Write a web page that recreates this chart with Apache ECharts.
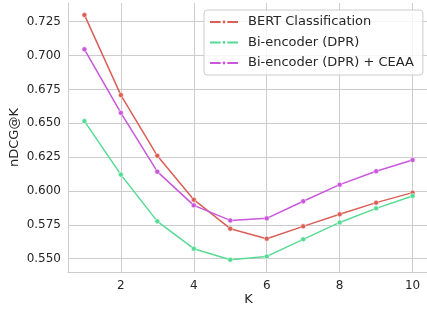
<!DOCTYPE html>
<html>
<head>
<meta charset="utf-8">
<script src="https://cdn.jsdelivr.net/npm/echarts@6/dist/echarts.min.js"></script>
<style>
  html, body { margin: 0; padding: 0; background: #fff; }
  #chart { width: 427px; height: 309px; }
</style>
</head>
<body>
<div id="chart"></div>
<script>
// K values and nDCG@K for each model
let kValues = [1, 2, 3, 4, 5, 6, 7, 8, 9, 10];
let bertCls = [0.7300, 0.6708, 0.6260, 0.5936, 0.5722, 0.5648, 0.5739, 0.5828, 0.5914, 0.5988];
let dpr = [0.6516, 0.6121, 0.5776, 0.5574, 0.5493, 0.5517, 0.5643, 0.5768, 0.5872, 0.5963];
let dprCeaa = [0.7046, 0.6577, 0.6143, 0.5894, 0.5783, 0.5798, 0.5924, 0.6047, 0.6146, 0.6229];

let seriesNames = ['BERT Classification', 'Bi-encoder (DPR)', 'Bi-encoder (DPR) + CEAA'];
let seriesColors = ['#db5f57', '#57db94', '#c957db'];

let xTicks = [2, 4, 6, 8, 10];
let yTicks = [0.550, 0.575, 0.600, 0.625, 0.650, 0.675, 0.700, 0.725];

let gridColor = '#cccccc';
let textColor = '#262626';
let font = 'DejaVu Sans';

function pairs(vals) {
    return kValues.map((k, i) => [k, vals[i]]);
}

function makeSeries(name, vals, color) {
    return {
        name: name,
        type: 'line',
        data: pairs(vals),
        symbol: 'circle',
        symbolSize: 5,
        showSymbol: true,
        lineStyle: { color: color, width: 1.5 },
        itemStyle: { color: color, borderColor: '#ffffff', borderWidth: 0.5 },
        emphasis: { disabled: true },
        animation: false
    };
}

let option = {
    backgroundColor: '#ffffff',
    animation: false,
    grid: { left: 68, top: 3, right: -2, bottom: 37, outerBoundsMode: 'none' },
    legend: {
        orient: 'vertical',
        left: 204,
        top: 10,
        padding: [5, 9, 5, 5],
        itemWidth: 28,
        itemHeight: 6,
        itemGap: 6.5,
        backgroundColor: 'rgba(255,255,255,0.8)',
        borderColor: gridColor,
        borderWidth: 1,
        borderRadius: 3,
        textStyle: { fontFamily: font, fontSize: 13, color: textColor, lineHeight: 14, padding: [0, 0, 0, 5] },
        data: seriesNames
    },
    xAxis: {
        type: 'value',
        min: 0.55,
        max: 10.45,
        name: 'K',
        nameLocation: 'middle',
        nameGap: 21,
        nameMoveOverlap: false,
        nameTextStyle: { fontFamily: font, fontSize: 13, color: textColor },
        axisLine: { show: true, lineStyle: { color: gridColor, width: 1 } },
        axisTick: { show: false, customValues: xTicks },
        axisLabel: { customValues: xTicks, fontFamily: font, fontSize: 12, color: textColor, margin: 8 },
        splitLine: { show: true, lineStyle: { color: gridColor, width: 1 } }
    },
    yAxis: {
        type: 'value',
        min: 0.5402,
        max: 0.7388,
        name: 'nDCG@K',
        nameLocation: 'middle',
        nameGap: 47,
        nameMoveOverlap: false,
        nameRotate: 90,
        nameTextStyle: { fontFamily: font, fontSize: 13, color: textColor },
        axisLine: { show: true, lineStyle: { color: gridColor, width: 1 } },
        axisTick: { show: false, customValues: yTicks },
        axisLabel: {
            customValues: yTicks,
            fontFamily: font, fontSize: 12, color: textColor, margin: 7,
            formatter: v => v.toFixed(3)
        },
        splitLine: { show: true, lineStyle: { color: gridColor, width: 1 } }
    },
    series: [
        makeSeries(seriesNames[0], bertCls, seriesColors[0]),
        makeSeries(seriesNames[1], dpr, seriesColors[1]),
        makeSeries(seriesNames[2], dprCeaa, seriesColors[2])
    ]
};

var dom = document.getElementById('chart');
var myChart = echarts.init(dom, null, { renderer: 'canvas' });
myChart.setOption(option, true);
</script>
</body>
</html>
